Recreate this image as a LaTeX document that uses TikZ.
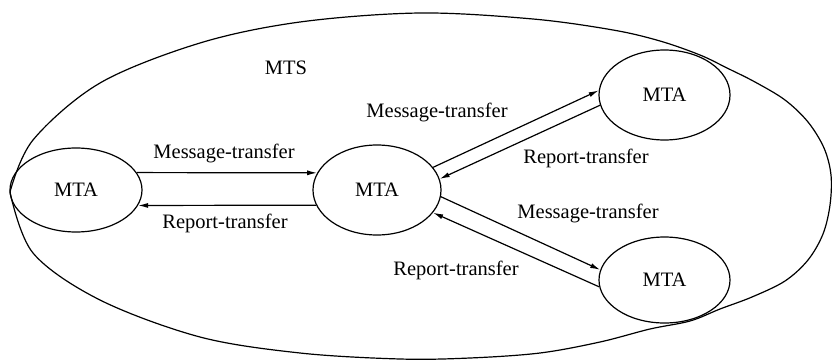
\documentclass[tikz,border=0pt]{standalone}
\usepackage{fontspec}
\setmainfont{Liberation Serif}
\usetikzlibrary{shapes.geometric,arrows.meta}
\begin{document}
\begin{tikzpicture}[x=1pt,y=-1pt,
  txt/.style={font=\fontsize{20.5}{24}\selectfont},
  mta/.style={ellipse,draw,line width=1.2pt,inner sep=0pt,txt},
  lbl/.style={inner sep=0pt,txt},
  flow/.style={-{Latex[length=10pt,width=5pt]},line width=1.2pt}]
\useasboundingbox (0,0) rectangle (832,361);

% message transfer system boundary (egg-shaped, pointed on the left)
\draw[line width=1.2pt] plot[smooth,tension=0.55] coordinates {
  (10,192) (33,140) (100,83) (200,43) (300,22) (420,13) (533,19)
  (613,30) (660,41) (700,55) (727,68) (755,82) (785,100) (808,122)
  (824,148) (831,175) (830,205) (823,234) (808,260) (785,281)
  (752,297) (720,309) (690,321) (650,329) (600,342) (540,353)
  (470,358) (400,359) (300,353) (200,337) (100,300) (33,253) (10,192)};
\node[lbl] (mts) at (286,68) {MTS};

% message transfer agents
\node[mta,minimum width=132,minimum height=84] (l)  at (76,190)    {MTA};
\node[mta,minimum width=128,minimum height=90] (c)  at (377,190)   {MTA};
\node[mta,minimum width=131,minimum height=90] (tr) at (664.5,95)  {MTA};
\node[mta,minimum width=131,minimum height=86] (br) at (664.5,280) {MTA};

% transfers between agents
\draw[flow] (l.16)   -- (c.164);
\draw[flow] (c.194)  -- (l.-14);
\draw[flow] (c.22)   -- (tr.176);
\draw[flow] (tr.189) -- (c.10);
\draw[flow] (c.-6)   -- (br.171);
\draw[flow] (br.186) -- (c.-22.6);

% transfer labels
\node[lbl] (m1) at (224,153) {Message-transfer};
\node[lbl] (r1) at (225,223) {Report-transfer};
\node[lbl] (m2) at (437,112) {Message-transfer};
\node[lbl] (r2) at (586,158) {Report-transfer};
\node[lbl] (m3) at (588,213) {Message-transfer};
\node[lbl] (r3) at (456,270) {Report-transfer};
\end{tikzpicture}
\end{document}
